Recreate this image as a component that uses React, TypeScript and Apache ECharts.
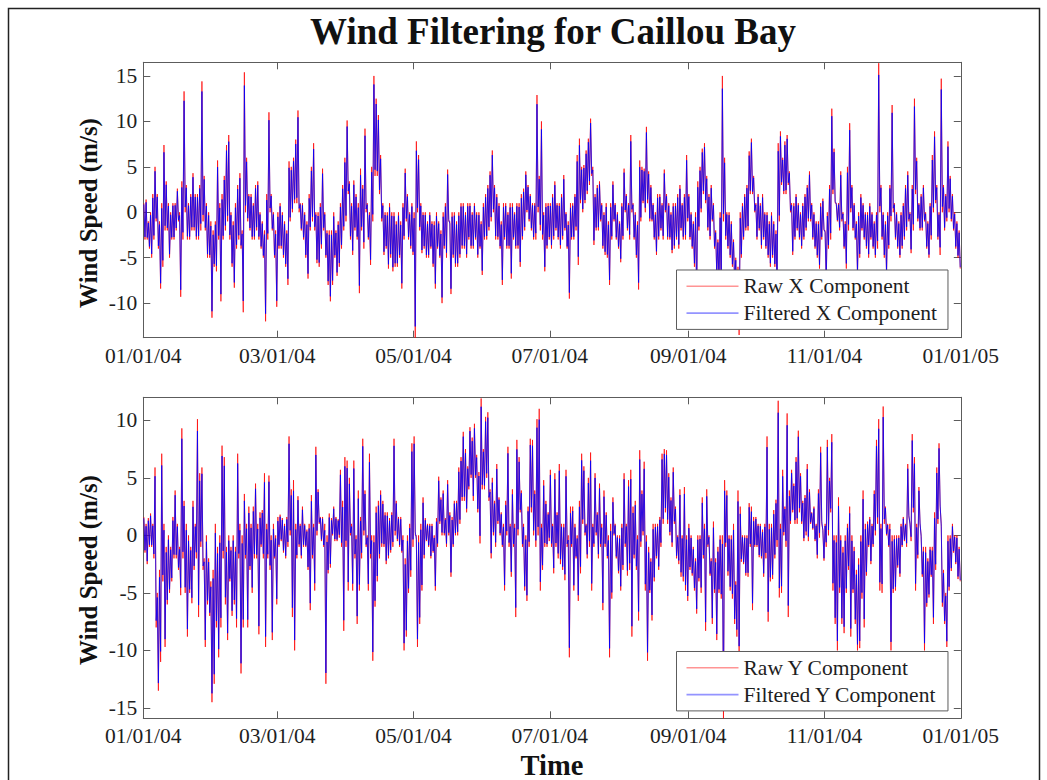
import React, { useEffect, useRef } from "react";
import * as echarts from "echarts";

// Time axis: days since 01/01/04 (2004 is a leap year), ticks every two months
const tickDays = [0, 60, 121, 182, 244, 305, 366];
const tickLabels = ["01/01/04", "03/01/04", "05/01/04", "07/01/04", "09/01/04", "11/01/04", "01/01/05"];

const xCompTicks = [-10, -5, 0, 5, 10, 15];
const yCompTicks = [-15, -10, -5, 0, 5, 10];
const xCompRange = [-13.8, 16.5];
const yCompRange = [-15.9, 12];

// Daily high / low of the raw hourly X (east-west) wind component, m/s
const rawXHigh = [
  1, 1.4, -1, 0, 2, 5, 2, -1, 1, 7.4,
  3.4, 1, 0, 1, 1, 2.6, 0, 3.4, 13.3, 3,
  1, 2, 4.3, 2, 2, 3, 14.4, 4, 1, 0,
  -1, -2, -1, 5.7, 1, 2, 4, 7.4, 8.5, 0,
  -1, 1, 3, 4.3, -2, 15.4, 6, 2, 2, 1,
  3, 3.4, 0, -1, -2, 2, 11, 2, 0, -2,
  0, 1, 0, -1, -2, 5.6, 5, 6, 8, 11.2,
  1, 1, 0, -1, 2, 5, 7.6, 0, 0, 1,
  4.8, 0, -2, -2, -2, 0, -2, -1, 1, 3,
  6, 10.1, 3.4, 1, 3.5, 2, 1, 4.8, 3, 9.2,
  1, 0, 5, 15, 12.5, 10.7, 6.3, 1, 0, 0,
  1, 0, 0, -1, 0, -1, 1, 4.8, 2, 0,
  1, 0, 7.8, 6.3, 1, 0, 0, -1, 0, -1,
  -1, 0, -1, -2, 0, 1, 4.7, -1, 0, 0,
  -1, 0, 1, 1, 0, 1, 1, 0, 1, 0,
  0, -1, 1, 2, 3, 4.5, 6.8, 3, 2, 1,
  -1, 1, 1, 0, 1, 1, 0, 1, 1, 2,
  2.6, 4.5, 3, 2, 1, 1, 12.9, 4, 10, 0,
  1, 1, 1, 2, 3.4, 1, 1, 2, 4.1, 0,
  -1, 1, 1, 2, 6.3, 8.1, 5, 5.2, 6.8, 8.1,
  10.3, 5, 2, 3, 3.4, 1, 0, 1, -1, 1,
  3.4, 1, 0, -1, 1, 4.8, 2, 1, 8.5, 1,
  0, -1, 5.7, 5, 4.8, 9.4, 4.5, 3, 1, 0,
  2, 2, 1, 4.7, 2, 1, 0, 1, 1, 2,
  3, 1, 2, 6.3, 2, 0, -1, 0, 3.4, 5,
  7, 7.6, 4, 2, 3, 1, -2, -3, 0, 15,
  6, 0, 0, -1, -3, -5, -6, 0, 1, 2,
  3, 6.7, 8.1, 4, 1, 2, 1, 2, 0, 0,
  -1, 0, -1, -2, 7.6, 8.9, 6, 7.8, 8.5, 4.5,
  1, 1, 2, 1, 0, 1, 2, 3, 4.5, 1,
  0, -1, -1, 1, 1.5, -2, 0, 3, 11.4, 7,
  1, 1, 4.5, 0, -1, 5, 9.8, 3, 1, -1,
  0, 2, 1, 0, 0, 1, 0, -1, 0, 16.4,
  3, 0, -1, 0, 3, 11.8, 1, 0, -1, 0,
  1, 3, 4.5, 0, 3, 12.5, 6, 1, 2, 3,
  0, -1, 1, 6.3, 8.9, 3, 0, 14.7, 3, 2,
  7.8, 4, 2, 0, -1, -2,
];
const rawXLow = [
  -3, -3, -4, -5, -3, -1, -4, -8.4, -6, -2,
  -2, -5, -3, -3, -2, -1, -9.3, -3, 0, -3,
  -3, -2, -2, -3, -3, -2, -1, -2, -5, -5,
  -11.6, -6, -6.5, -3, -9.8, -3, -2, -1, -3, -6,
  -8.3, -4, -3, -4, -11, 0, -1, -2, -3, -3,
  -2, -3, -4, -5, -12, -3, 0, -2, -5, -10.4,
  -4, -4, -5, -6, -8, -1, 0, 1, 1, 0,
  -2, -3, -5, -7.3, -2, -1, -2, -5.6, -6, -4,
  -2, -5, -8, -9.8, -8, -5, -7, -6, -4, -2,
  -1, 2, -3, -4.7, -2, -3, -8.9, -2, -4, 0,
  -3, -5.8, -1, 4, 4, 2, -1, -4.7, -4, -6.2,
  -5, -6.5, -6, -6, -5, -8.4, -3, -1, -3, -4,
  -4.7, -13.8, 0, -2, -4.5, -4, -5, -5, -4, -6,
  -8.4, -4, -5, -10, -4, -5, -1, -9, -5, -6,
  -6, -5, -4, -4, -5, -3, -4, -4, -3, -5,
  -4, -6.9, -3, -3, -2, -1, 0, -3, -3, -4,
  -8, -3, -4, -4, -7.3, -3, -4, -4, -6, -3,
  -2, 0, -1, -2, -3, -3, 0, -2, -3, -6.5,
  -4, -3, -4, -3, -2, -3, -4, -3, -2, -4,
  -9.5, -3, -3, -2, -5.8, 1, 0, 1, 2, 3,
  4, -3.6, -2, -2, -1, -4, -4.7, -5, -8, -3,
  -1, -3, -4, -5.5, -3, 0, -2, -3, 0, -3,
  -5, -8.5, -1, 1, 0, 1, -1, -1, -3, -4.7,
  -3, -2, -3, 0, -3, -3, -4.5, -4, -3, -4,
  -2, -3, -3, -1, -3, -4, -6, -9.8, -2, 0,
  2, 1, -2, -3, -1, -4, -7, -8, -9, -1,
  -3, -4, -5, -6, -8, -10, -13.5, -5, -3, -2,
  -2, 2, 2, 0, -3, -2, -4, -3, -4, -5,
  -6, -5, -6, -9, -1, 3, 2, 2, 3, 0,
  -4.7, -3, -2, -3, -4, -3, -2, -1, -1, -3,
  -4, -5, -6.2, -3, -2, -8, -4, -3, 2, 1,
  -1, -2, -1, -4, -6.2, -2, 0, -2, -3, -7,
  -5, -2, -3, -4, -5, -3, -4, -5, -4, 0,
  -3, -5, -7, -4, -1, 0, -3, -4, -5, -4,
  -3, -2, -1, -4.5, -2, 2, -1, -2, -2, -1,
  -4, -5, -3, 0, 1, -3, -4.7, 0, -2, -1,
  0, -1, -2, -4, -5, -6.2,
];

// Daily high / low of the raw hourly Y (north-south) wind component, m/s
const rawYHigh = [
  1.6, 1, 1.5, 1.9, 1, 5.9, -5, -3, 7.1, 1,
  -1, 0, -1, 1.6, 3.9, 1, -1, 9.3, 3, 1,
  0, -1, 3, 1, 10.1, 5.4, 5.9, -2, 0, -2,
  -4, -3, 1, -1, 0, 7.8, 6.8, -1, 0, -1,
  0, -1, 7.1, 1, 0, 3.6, 1, 2.5, 1, 2.5,
  4.5, 1, 2, 2.2, 5.4, 1, 5.2, 0, 1, 0,
  1.6, 1.8, 1.5, 1, 1.6, 8.6, 4, 4.8, 1, 3.4,
  1, 2.5, 1, 0.5, 1, 3.5, 1, 7.7, 4, 1.6,
  1.6, 1, 0, 1.9, 1.5, 2.5, 1.6, 1.4, 5.7, 3,
  6.8, 6.5, 5, 1, 6.5, 0, 3.9, 1.6, 8.4, 3.9,
  0, 7.1, 0, 0, 2.5, 3, 3.9, 3, 2, 2,
  1.5, 2, 8.4, 3, 1.6, 1.6, 0, -2, 0, 1,
  8, 8.6, 0, 0, 1, 3.3, 1.5, 1, 1, 1,
  0, 1.5, 5.1, 3.3, 3.9, 1.5, 4.8, 2, 1.6, 3,
  3, 5.9, 6.8, 9, 7.5, 6, 9.4, 8.5, 9.7, 7,
  5.5, 11.9, 7.5, 10.3, 10.7, 4, 5, 3, 6.2, 3.3,
  2, 1, 3, 7.7, 1, 4, 1, 8.3, 6.8, 3.9,
  1, 0, 2.5, 8.4, 8.3, 3.9, 10.1, 11, 1, 4.8,
  3, 2, 5.7, 1, 5.4, 2, 6.2, 1, 1, 5.7,
  0, 2.5, 2.5, 1, 0, 3, 7.1, 6, 1, 5,
  7.2, 1, 5.4, 2, 4.5, 1, 3.9, 2, 0, 1,
  3.3, 1, 0, 0, 1, 5.4, 1, 4.8, 5.7, 2.5,
  3, 0, 7.4, 3.9, 6.4, 0, -1, -2, 1, 1,
  1, 1.6, 7.1, 7.5, 7.4, 5.4, 3.3, 5.9, 2.5, 0,
  4, 0, 4.2, 0, 1, 0, -1, -2, 0, 0,
  3.3, 1, 4, 0, -2, 1.2, -2, -1, 0, 0,
  4.8, 3.9, 0, 0, 1, -4, 3.9, 2.5, 0, 0,
  0, 2.8, 2.5, 1.6, 1.6, 1, 1, 0.5, 1, 8.6,
  1, 1, 2.2, 3.1, 11.7, 1, 5.7, 2.5, 10.6, 3.9,
  5.7, 4.5, 6.8, 9.1, 5.4, 3, 3.5, 6.2, 4, 2,
  2.5, 1, 4, 7.7, 0.5, 1, 8.3, 5, 8.8, 0,
  0, 3.3, 0, -1, 0, 1, 2.5, 0, -1, -3,
  -2, 0, 3.9, 1, 1.2, 1.6, 1, 3.9, 8.3, 10.1,
  1, 11.2, 2.5, 1, 1, 0, 0, 0, 0, 1,
  1.6, 1, 6.2, 1, 8.8, 6.8, 1, 4.2, 0, -1,
  -1, -2, -1, -1, 2, 5.9, 8, 1, -3, -5,
  0, 0, 1, 0, 0, -1,
];
const rawYLow = [
  -1.5, -2.5, -1, -1, -2, -8, -13.5, -11, -4, -9.7,
  -6, -5, -4, -2, -2, -3, -5.2, -2, -5, -8.8,
  -5, -5.9, -3, -2, -7.1, -1, -3, -9.7, -6, -7,
  -14.5, -12.9, -8, -10.6, -8, -2, -6, -9.1, -4, -7,
  -6, -8, -2, -12, -8, -2, -8, -3, -5, -2,
  -2, -8.6, -1, -2, -9.7, -2, -3, -9.1, -2, -6,
  -1, -0.5, -1.5, -2, -1, 0, -7.1, -10, -2, -1,
  -2, -1, -1, -3, -6.5, -2, -4.8, 0, 1, -0.5,
  -1, -12.9, -3.3, -2.8, 0, -0.5, -0.5, -0.2, -1, -8.3,
  -1, -4.8, 0, -4.8, -2, -7.7, -4.8, -2, 0, -1,
  -4.8, -2, -10.9, -6.2, -4, -2, -1, -1, -2.5, -2,
  -1.5, -1, 0, -0.5, -1, -1.5, -10, -8.8, -5, -3.6,
  -1, 0, -9.7, -7.7, -4.8, -2, -0.5, -1, -2, -1.5,
  -4.8, -1, 1, 0, 0, -1, 0, -3.6, -1, 0,
  0, 1, 3, 3, 2, 4, 5, 3, 5, 2,
  -0.7, 4, 4, 5, 3, -2, 0, -1, 1, 0,
  -1, -4.8, 0, -1, -3.6, -1, -7.1, 0, 2, -1,
  -4.8, -5.7, -1, 2, 0, -1, 0, -4.8, -3, -1,
  -1, -0.5, -1, -3.3, -1, -2, -2.5, -3, -3.9, -1,
  -10.6, -1, -4.8, -2, -5.7, -3.3, 1, 0, -2, -1,
  -4.8, -1, 0, -2, -1, -6.5, -1, -2, -10.6, -5.5,
  0, -2, -3.3, -4.8, -3, -1, -3.5, -3, -8.8, -2,
  -3, -7.4, -1, 0, -4.8, -10.9, -5, -7.4, -4, -2,
  -3, -1, 1, 2, 1, 0, -1, 1, -2, -2.5,
  -3.6, -4, -4.8, -5.7, -3, -3.5, -4.8, -6.8, -4, -5,
  -2, -8.3, -1, -3.5, -7.7, -5, -9.1, -5, -5.5, -15.9,
  -1, -3.5, -4.8, -5.5, -7.7, -8.8, -10.6, -2.3, -2.5, -3.5,
  -3.6, -1, -6.5, -1, -1, -1.9, -2, -3.6, -2, -7.5,
  -4, -3.8, -2, -1, -5.4, -5, 0, -1, -7.1, 1,
  2, 1, 1, 2, 1, -0.5, 0, -0.5, 1, 0.5,
  -0.5, -2, -0.2, 1, -2.2, -1, 0, 2, -4.8, -7.7,
  -10, -5, -7.7, -8.5, -5, -3, -8.8, -5, -7.7, -10,
  -9.8, -5.5, -8, -3.5, -1, -2.5, -1, 0, 1, -4.8,
  -5, 1, 0, -1, -10, -5, -4.8, -2.8, -3.6, -1,
  -0.5, -1, 1.6, -0.5, 2, -4.8, -2, 1, -3.6, -10,
  -6.2, -5.4, -3.6, -7.7, -3, 1, 2.5, -6.2, -7.7, -9.7,
  -4.8, -3.1, -1.5, -2.5, -3.8, -4,
];

// Weights of the short symmetric low-pass filter applied to the raw record
const filterTaps = [0.035, 0.93, 0.035];

const FONT = "'Liberation Serif', 'Times New Roman', serif";
const AXIS_COLOR = "#5c5c5c";
const TEXT_COLOR = "#1e1e1e";
const RED = "rgba(255, 0, 0, 0.72)";
const BLUE = "rgba(0, 0, 255, 0.82)";
const RED_KEY = "rgba(255, 60, 60, 0.55)";
const BLUE_KEY = "rgba(60, 60, 255, 0.55)";

// Each day contributes its high then its low, half a day apart
function rawRecord(high: number[], low: number[]): number[][] {
  const pts: number[][] = [];
  for (let d = 0; d < high.length; d++) {
    pts.push([d + 0.25, high[d]]);
    pts.push([d + 0.75, low[d]]);
  }
  return pts;
}

function lowPass(points: number[][]): number[][] {
  const n = points.length;
  return points.map((p, i) => {
    const prev = points[Math.max(0, i - 1)][1];
    const next = points[Math.min(n - 1, i + 1)][1];
    const v = filterTaps[0] * prev + filterTaps[1] * p[1] + filterTaps[2] * next;
    return [p[0], Math.round(v * 100) / 100];
  });
}

const panels = [
  {
    grid: { left: 143.3, top: 62.3, width: 817.5, height: 275.4 },
    range: xCompRange,
    ticks: xCompTicks,
    raw: rawRecord(rawXHigh, rawXLow),
    names: ["Raw X Component", "Filtered X Component"],
    legendTop: 270,
    labelY: 213,
  },
  {
    grid: { left: 143.3, top: 397.3, width: 817.5, height: 321 },
    range: yCompRange,
    ticks: yCompTicks,
    raw: rawRecord(rawYHigh, rawYLow),
    names: ["Raw Y Component", "Filtered Y Component"],
    legendTop: 651.5,
    labelY: 570,
  },
];

const tickStyle = { color: AXIS_COLOR, width: 1 };
const labelStyle = { fontFamily: FONT, fontSize: 21.5, color: TEXT_COLOR };

function buildOption() {
  const grids: any[] = [];
  const xAxes: any[] = [];
  const yAxes: any[] = [];
  const series: any[] = [];
  const legends: any[] = [];
  const graphics: any[] = [];

  panels.forEach((p, i) => {
    grids.push({ ...p.grid, containLabel: false, show: false });
    // bottom time axis with labels, mirrored top axis with ticks only
    ["bottom", "top"].forEach((pos) => {
      xAxes.push({
        type: "value",
        gridIndex: i,
        position: pos,
        min: 0,
        max: 366,
        axisLine: { show: true, onZero: false, lineStyle: tickStyle },
        axisTick: { show: true, inside: true, length: 7, customValues: tickDays, lineStyle: tickStyle },
        axisLabel: {
          show: pos === "bottom",
          customValues: tickDays,
          formatter: (v: number) => tickLabels[tickDays.indexOf(Math.round(v))] ?? "",
          margin: 7,
          ...labelStyle,
        },
        splitLine: { show: false },
      });
    });
    ["left", "right"].forEach((pos) => {
      yAxes.push({
        type: "value",
        gridIndex: i,
        position: pos,
        min: p.range[0],
        max: p.range[1],
        axisLine: { show: true, onZero: false, lineStyle: tickStyle },
        axisTick: { show: true, inside: true, length: 7, customValues: p.ticks, lineStyle: tickStyle },
        axisLabel: {
          show: pos === "left",
          customValues: p.ticks,
          formatter: (v: number) => String(v),
          margin: 6,
          ...labelStyle,
        },
        splitLine: { show: false },
      });
    });

    const common = {
      type: "line",
      xAxisIndex: i * 2,
      yAxisIndex: i * 2,
      symbol: "none",
      showSymbol: false,
      silent: true,
      animation: false,
    };
    series.push({ ...common, name: p.names[0], data: p.raw, lineStyle: { color: RED, width: 1 }, itemStyle: { color: RED }, z: 2 });
    series.push({ ...common, name: p.names[1], data: lowPass(p.raw), lineStyle: { color: BLUE, width: 1 }, itemStyle: { color: BLUE }, z: 3 });

    legends.push({
      data: [
        { name: p.names[0], icon: "rect", itemStyle: { color: RED_KEY } },
        { name: p.names[1], icon: "rect", itemStyle: { color: BLUE_KEY } },
      ],
      orient: "vertical",
      left: 676.5,
      top: p.legendTop,
      itemWidth: 52,
      itemHeight: 1.6,
      itemGap: 4.8,
      padding: [5.3, 11, 5.3, 10],
      backgroundColor: "#ffffff",
      borderColor: AXIS_COLOR,
      borderWidth: 1,
      selectedMode: false,
      textStyle: { fontFamily: FONT, fontSize: 21.5, color: TEXT_COLOR },
      z: 10,
    });

    graphics.push({
      type: "text",
      x: 88,
      y: p.labelY,
      rotation: Math.PI / 2,
      style: {
        text: "Wind Speed (m/s)",
        font: `bold 25px ${FONT}`,
        fill: "#111",
        align: "center",
        verticalAlign: "middle",
      },
    });
  });

  graphics.push({
    type: "text",
    x: 553,
    y: 31,
    style: {
      text: "Wind Filtering for Caillou Bay",
      font: `bold 37px ${FONT}`,
      fill: "#111",
      align: "center",
      verticalAlign: "middle",
    },
  });
  graphics.push({
    type: "text",
    x: 552,
    y: 765,
    style: {
      text: "Time",
      font: `bold 28.5px ${FONT}`,
      fill: "#111",
      align: "center",
      verticalAlign: "middle",
    },
  });
  graphics.push({
    type: "rect",
    silent: true,
    shape: { x: 8.5, y: 8.5, width: 1031, height: 800 },
    style: { fill: "none", stroke: "#222", lineWidth: 1.5 },
    z: -1,
  });

  return {
    animation: false,
    backgroundColor: "#ffffff",
    grid: grids,
    xAxis: xAxes,
    yAxis: yAxes,
    series,
    legend: legends,
    graphic: graphics,
  };
}

export default function App() {
  const ref = useRef<HTMLDivElement>(null);
  useEffect(() => {
    if (!ref.current) return;
    const chart = echarts.init(ref.current, null, { renderer: "svg" });
    chart.setOption(buildOption() as any);
    return () => chart.dispose();
  }, []);
  return (
    <div
      ref={ref}
      style={{ position: "absolute", left: 0, top: 0, width: 1047, height: 780, background: "#fff" }}
    />
  );
}
